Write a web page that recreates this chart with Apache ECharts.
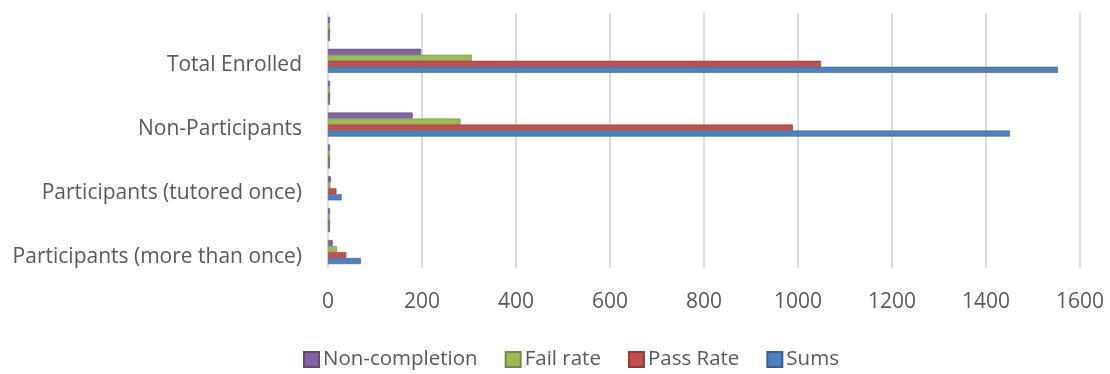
<!DOCTYPE html>
<html>
<head>
<meta charset="utf-8">
<script src="https://cdn.jsdelivr.net/npm/echarts@6/dist/echarts.min.js"></script>
<style>
  html, body { margin: 0; padding: 0; background: #fff; }
  #chart { width: 1110px; height: 374px; }
</style>
</head>
<body>
<div id="chart"></div>
<script>
// Rows from bottom to top; unnamed rows hold the rate figures (fractions of the total)
const categories = [
  'Participants (more than once)', '',
  'Participants (tutored once)', '',
  'Non-Participants', '',
  'Total Enrolled', ''
];

const nonCompletion = [10, 0.14, 6, 0.21, 180, 0.12, 198, 0.13];
const failRate      = [19, 0.27, 5, 0.17, 282, 0.19, 306, 0.20];
const passRate      = [39, 0.56, 18, 0.62, 989, 0.68, 1049, 0.68];
const sums          = [70, 1, 29, 1, 1451, 1, 1553, 1];

const xTicks = { min: 0, max: 1600, interval: 200 };

const legendNames = ['Non-completion', 'Fail rate', 'Pass Rate', 'Sums'];
const colors = {
  'Non-completion': '#8064A2',
  'Fail rate': '#9BBB59',
  'Pass Rate': '#C0504D',
  'Sums': '#4F81BD'
};
const edges = {
  'Non-completion': '#5f4a7a',
  'Fail rate': '#738b42',
  'Pass Rate': '#8f3b39',
  'Sums': '#3a6090'
};

const FONT = 'Open Sans';
const TEXT = '#595959';

function barSeries(name, data) {
  return {
    name: name,
    type: 'bar',
    data: data,
    barWidth: 6,
    barGap: '0%',
    barMinHeight: 2,
    itemStyle: {
      color: colors[name],
      borderColor: edges[name],
      borderWidth: 0.6
    },
    emphasis: { disabled: true }
  };
}

const chart = echarts.init(document.getElementById('chart'), null, { renderer: 'canvas' });
chart.setOption({
  animation: false,
  grid: { left: 328, right: 30, top: 13, bottom: 106, containLabel: false },
  legend: {
    data: legendNames,
    top: 344,
    left: 298,
    itemWidth: 15,
    itemHeight: 15,
    itemGap: 27,
    icon: 'rect',
    textStyle: { fontFamily: FONT, fontSize: 20.5, color: TEXT, padding: [0, 0, 0, -1] }
  },
  xAxis: {
    type: 'value',
    min: xTicks.min,
    max: xTicks.max,
    interval: xTicks.interval,
    axisLine: { show: false },
    axisTick: { show: false },
    axisLabel: { fontFamily: FONT, fontSize: 21, color: TEXT, margin: 24, formatter: v => String(v) },
    splitLine: { show: true, lineStyle: { color: '#dcdcdc', width: 2 } }
  },
  yAxis: {
    type: 'category',
    data: categories,
    axisLine: { show: false },
    axisTick: { show: false },
    axisLabel: {
      fontFamily: FONT, fontSize: 21, color: TEXT, margin: 26, interval: 0,
      verticalAlign: 'top', lineHeight: 9
    }
  },
  series: [
    barSeries('Non-completion', nonCompletion),
    barSeries('Fail rate', failRate),
    barSeries('Pass Rate', passRate),
    barSeries('Sums', sums)
  ]
});
</script>
</body>
</html>
